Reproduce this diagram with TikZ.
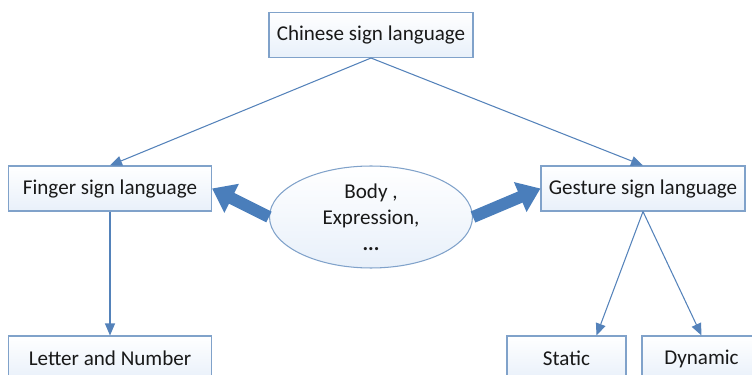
\documentclass[tikz,border=0pt]{standalone}
\usepackage{fontspec}
\setmainfont{Carlito}
\usetikzlibrary{shapes.geometric,arrows.meta,calc}
\definecolor{boxline}{RGB}{128,162,202}
\definecolor{boxfill}{RGB}{232,240,250}
\definecolor{linkblue}{RGB}{84,130,186}
\definecolor{fatblue}{RGB}{74,126,187}
\tikzset{
  box/.style={draw=boxline,line width=0.6pt,top color=white,bottom color=boxfill,
    minimum height=0.9cm,inner sep=0pt,text=black!90,font=\fontsize{12}{14}\selectfont},
  blob/.style={ellipse,draw=boxline,line width=0.6pt,top color=white,bottom color=boxfill,
    minimum width=4.06cm,minimum height=2.04cm,inner sep=0pt,align=center,text=black!90,
    font=\fontsize{12}{14.8}\selectfont},
  link/.style={draw=linkblue,line width=0.6pt,-{Triangle[length=2.4mm,width=2mm]}},
  fat/.style={draw=fatblue,line width=0.24cm,-{Triangle[length=0.44cm,width=0.62cm]}}
}
\begin{document}
\begin{tikzpicture}[x=0.02cm,y=-0.02cm]
\useasboundingbox (0,0) rectangle (752,375);
\clip (0,0) rectangle (752,375);
\node[box,minimum width=4.08cm] (chinese) at (371,35) {Chinese sign language};
\node[box,minimum width=4.06cm] (finger) at (110,188.5) {Finger sign language};
\node[box,minimum width=4.08cm] (gesture) at (643,188.5) {Gesture sign language};
\node[blob] (body) at (371,217) {Body ,\\Expression,\\\textbf{...}};
\node[box,minimum width=4.06cm] (letter) at (110,358.5) {Letter and Number};
\node[box,minimum width=2.38cm] (static) at (566.5,358.5) {Static};
\node[box,minimum width=2.38cm] (dynamic) at (701.5,358.5) {Dynamic};
\coordinate (statictip) at ($(static.north)!0.5!(static.north east)$);
% thin links
\draw[link] (chinese.south) -- (finger.north);
\draw[link] (chinese.south) -- (gesture.north);
\draw[link] (finger.south) -- (letter.north);
\draw[link] (gesture.south) -- (statictip);
\draw[link] (gesture.south) -- (dynamic.north);
% fat arrows
\draw[fat] (body.west) -- (finger.east);
\draw[fat] (body.east) -- (gesture.west);
\end{tikzpicture}
\end{document}
